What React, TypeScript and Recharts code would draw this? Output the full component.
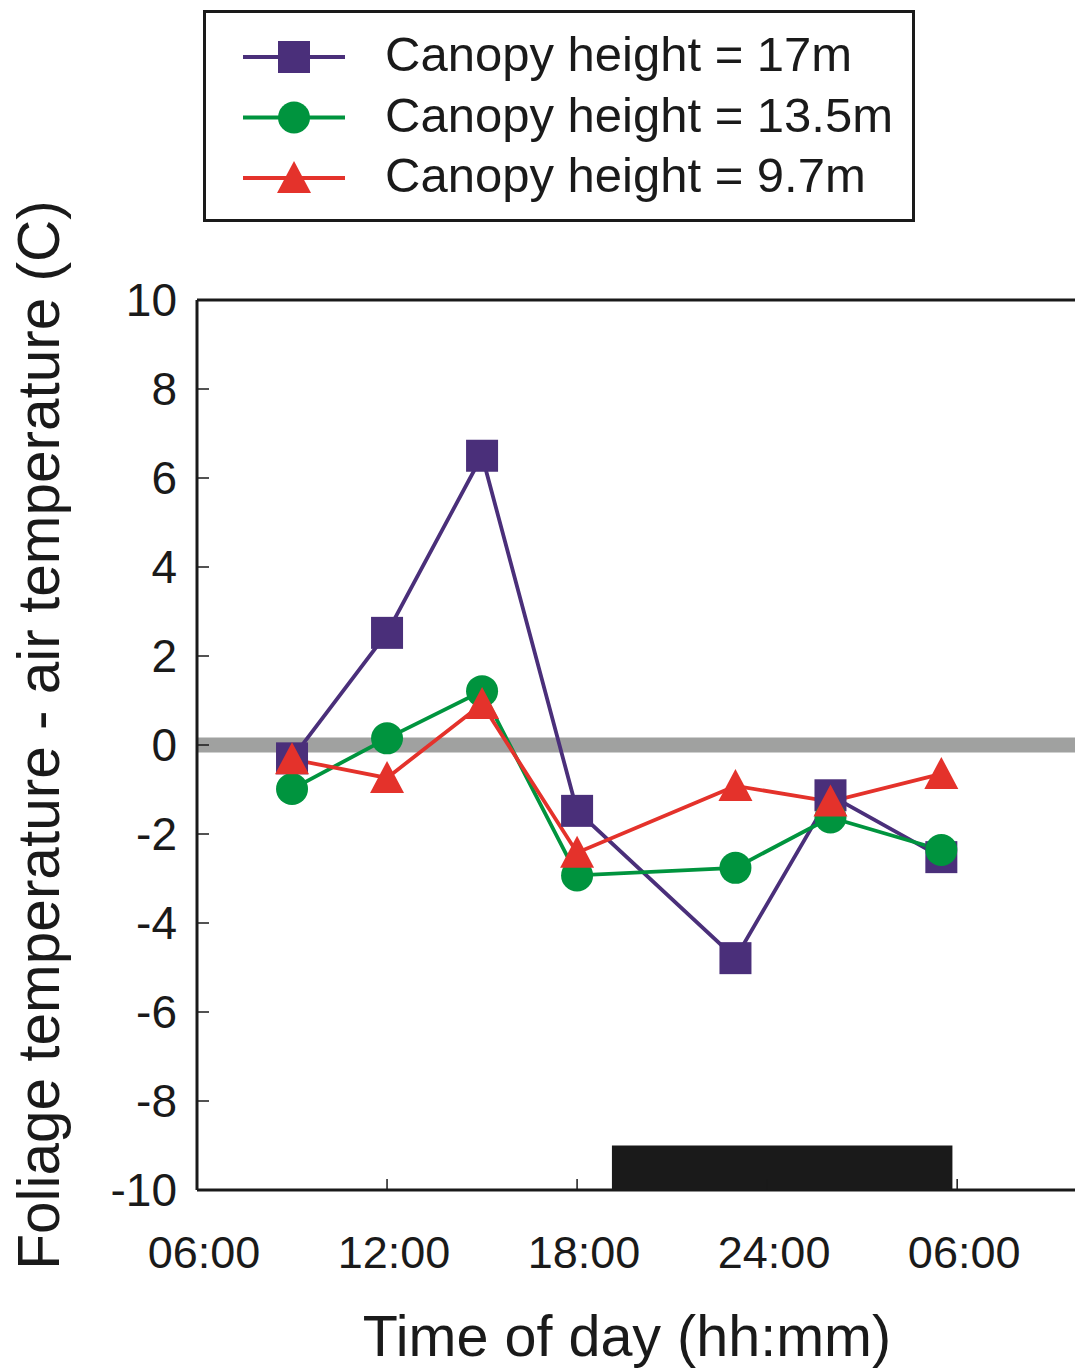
import {
  LineChart,
  Line,
  XAxis,
  YAxis,
  ReferenceLine,
  ReferenceArea,
  Legend,
  Label,
} from "recharts";

const FONT = "'Liberation Sans', Arial, Helvetica, sans-serif";
const INK = "#1a1a1a";

// hour of day (next day continues past 24)
const hours = [9, 12, 15, 18, 23, 26, 29.5];
const canopy17 = [-0.3, 2.52, 6.5, -1.48, -4.79, -1.13, -2.52];
const canopy135 = [-0.99, 0.15, 1.21, -2.93, -2.76, -1.63, -2.36];
const canopy97 = [-0.32, -0.74, 0.92, -2.42, -0.92, -1.27, -0.65];

const xTicks = [6, 12, 18, 24, 30];
const xTickLabels = ["06:00", "12:00", "18:00", "24:00", "06:00"];
const yTicks = [-10, -8, -6, -4, -2, 0, 2, 4, 6, 8, 10];
const nightStart = 19.1;
const nightEnd = 29.85;

const data = hours.map((h, i) => ({
  h,
  c17: canopy17[i],
  c135: canopy135[i],
  c97: canopy97[i],
}));

const series = [
  { key: "c17", name: "Canopy height = 17m", color: "#4a2f7a", shape: "square" },
  { key: "c135", name: "Canopy height = 13.5m", color: "#00943e", shape: "circle" },
  { key: "c97", name: "Canopy height = 9.7m", color: "#e4322b", shape: "triangle" },
];

function Marker({ cx, cy, shape, color }: any) {
  if (shape === "square")
    return <rect x={cx - 16} y={cy - 16} width={32} height={32} fill={color} />;
  if (shape === "circle") return <circle cx={cx} cy={cy} r={16} fill={color} />;
  return (
    <path
      d={`M${cx},${cy - 17} L${cx + 17},${cy + 15} L${cx - 17},${cy + 15} Z`}
      fill={color}
    />
  );
}

function XTick({ x, y, payload }: any) {
  const label = xTickLabels[xTicks.indexOf(payload.value)];
  return (
    <g>
      {payload.value !== xTicks[0] && (
        <line x1={x} x2={x} y1={y} y2={y - 11} stroke={INK} strokeWidth={1.5} />
      )}
      <text x={x + 7} y={y + 78} textAnchor="middle" fontSize={45} fontFamily={FONT} fill={INK}>
        {label}
      </text>
    </g>
  );
}

function YTick({ x, y, payload }: any) {
  const edge = payload.value === -10 || payload.value === 10;
  return (
    <g>
      {!edge && <line x1={x} x2={x + 12} y1={y} y2={y} stroke={INK} strokeWidth={1.5} />}
      <text x={x - 20} y={y + 16} textAnchor="end" fontSize={46} fontFamily={FONT} fill={INK}>
        {payload.value}
      </text>
    </g>
  );
}

function LegendBox() {
  return (
    <svg width={712} height={212} style={{ display: "block" }}>
      <rect x={1.5} y={1.5} width={709} height={209} fill="#fff" stroke={INK} strokeWidth={3} />
      {series.map((s, i) => {
        const cy = 47 + i * 60.5;
        return (
          <g key={s.key}>
            <line x1={40} x2={142} y1={cy} y2={cy} stroke={s.color} strokeWidth={3.8} />
            <Marker cx={91} cy={cy} shape={s.shape} color={s.color} />
            <text x={182} y={cy + 14} fontSize={49} fontFamily={FONT} fill={INK}>
              {s.name}
            </text>
          </g>
        );
      })}
    </svg>
  );
}

export default function App() {
  return (
    <div style={{ position: "absolute", left: 0, top: 0, background: "#fff" }}>
      <LineChart
        width={1075}
        height={1369}
        data={data}
        margin={{ top: 300, right: 0, left: 0, bottom: 0 }}
      >
        <XAxis
          dataKey="h"
          type="number"
          domain={[6, 33.72]}
          ticks={xTicks}
          height={179}
          axisLine={{ stroke: INK, strokeWidth: 3 }}
          tickLine={false}
          tickSize={0}
          tickMargin={0}
          tick={<XTick />}
          interval={0}
        >
          <Label
            content={({ viewBox }: any) => (
              <text
                x={viewBox.x + viewBox.width / 2 - 9}
                y={viewBox.y + 166}
                textAnchor="middle"
                fontSize={57.5}
                fontFamily={FONT}
                fill={INK}
              >
                Time of day (hh:mm)
              </text>
            )}
          />
        </XAxis>
        <YAxis
          type="number"
          domain={[-10, 10]}
          ticks={yTicks}
          width={197}
          axisLine={{ stroke: INK, strokeWidth: 3 }}
          tickLine={false}
          tickSize={0}
          tickMargin={0}
          tick={<YTick />}
          interval={0}
        >
          <Label
            content={() => (
              <text
                x={59}
                y={735}
                transform="rotate(-90 59 735)"
                textAnchor="middle"
                fontSize={58.5}
                fontFamily={FONT}
                fill={INK}
              >
                Foliage temperature - air temperature  (C)
              </text>
            )}
          />
        </YAxis>
        <ReferenceLine y={0} stroke="#a0a1a0" strokeWidth={15} />
        <ReferenceLine y={10} stroke={INK} strokeWidth={3} />
        <ReferenceArea
          x1={nightStart}
          x2={nightEnd}
          y1={-10}
          y2={-9}
          fill={INK}
          fillOpacity={1}
          stroke="none"
        />
        <Legend
          layout="horizontal"
          verticalAlign="middle"
          align="center"
          wrapperStyle={{ top: 10, left: 203, width: 712, height: 212 }}
          content={() => <LegendBox />}
        />
        {series.map((s) => (
          <Line
            key={s.key}
            dataKey={s.key}
            name={s.name}
            stroke={s.color}
            strokeWidth={3.8}
            isAnimationActive={false}
            activeDot={false}
            dot={(p: any) => (
              <Marker key={`${s.key}-${p.index}`} cx={p.cx} cy={p.cy} shape={s.shape} color={s.color} />
            )}
          />
        ))}
      </LineChart>
    </div>
  );
}
